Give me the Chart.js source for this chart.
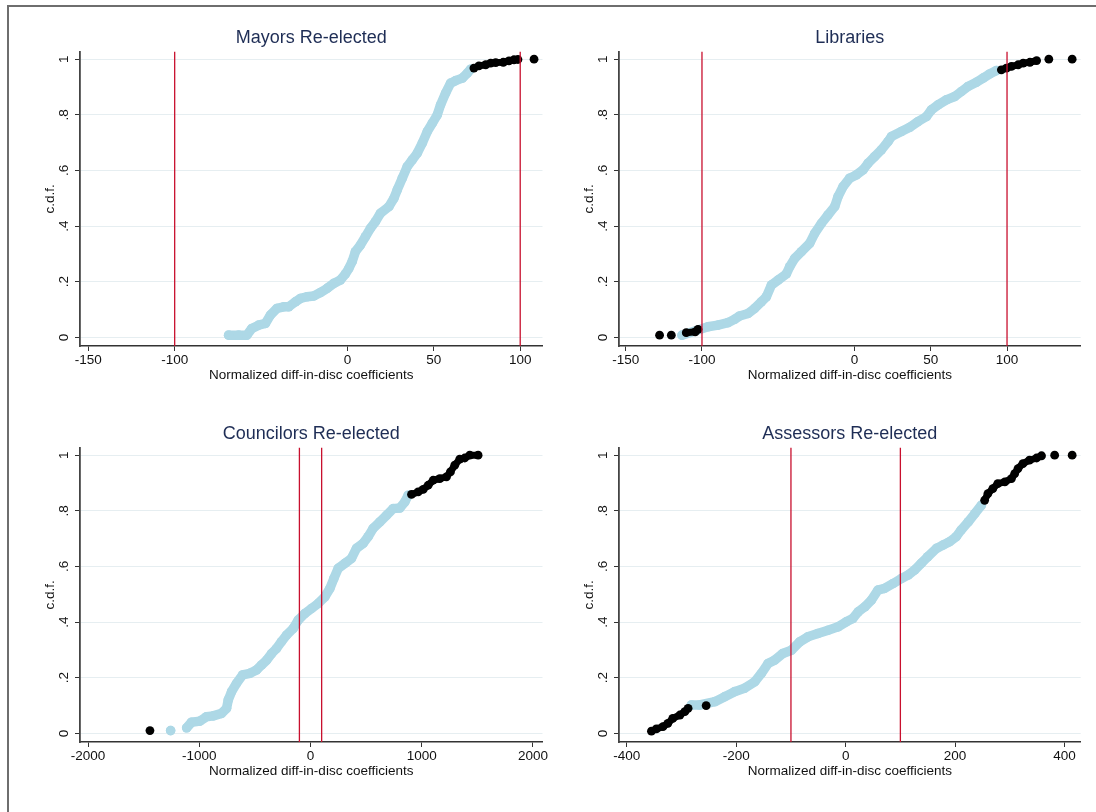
<!DOCTYPE html>
<html>
<head>
<meta charset="utf-8">
<script src="https://cdn.jsdelivr.net/npm/chart.js@4.4.1/dist/chart.umd.min.js"></script>
<style>
  html, body { margin: 0; padding: 0; background: #fff; overflow: hidden; }
  #fig { position: relative; width: 1096px; height: 812px; }
  #frame { position: absolute; left: 7px; top: 5px; right: -10px; bottom: -10px;
           border-left: 2px solid #6e6e6e; border-top: 2px solid #6e6e6e; }
  canvas { position: absolute; }
</style>
</head>
<body>
<div id="fig">
  <div id="frame"></div>
  <canvas id="mayors" width="560" height="400" style="left:0;top:0"></canvas>
  <canvas id="libraries" width="548" height="400" style="left:548px;top:0"></canvas>
  <canvas id="councilors" width="560" height="400" style="left:0;top:396px"></canvas>
  <canvas id="assessors" width="548" height="400" style="left:548px;top:396px"></canvas>
</div>
<script>
// cdf levels on the y axis
const yTicks = [0, 0.2, 0.4, 0.6, 0.8, 1];
const yTickLabels = ['0', '.2', '.4', '.6', '.8', '1'];
const refLines = [-100, 100];

// Mayors Re-elected (null = break between separate dots)
const mayorsBlueX = [-68.8, -63, -58.2, -55.3, -51.4, -47.5, -44.6, -40.8, -36.9, -34, -30.1, -27.2, -23.4, -19.5, -15.7, -11.8, -7.9, -4.1, -1.2, 0.8, 2.7, 4.6, 7.5, 10.4, 13.3, 16.2, 19.1, 24, 26.9, 28.8, 31.7, 34.6, 37.5, 40.4, 43.3, 46.2, 49.1, 52, 53.9, 56.8, 59.7, 62.6, 66.5, 69.4, 71.3];
const mayorsBlueY = [0.008, 0.008, 0.008, 0.032, 0.044, 0.05, 0.08, 0.104, 0.11, 0.11, 0.128, 0.14, 0.146, 0.149, 0.161, 0.176, 0.194, 0.206, 0.228, 0.248, 0.272, 0.308, 0.332, 0.362, 0.392, 0.416, 0.446, 0.47, 0.5, 0.53, 0.572, 0.614, 0.638, 0.662, 0.698, 0.74, 0.77, 0.8, 0.836, 0.878, 0.914, 0.923, 0.932, 0.95, 0.964];
const mayorsBlackX = [73.2, 76.1, 80, 82.9, 85.8, 90.2, 93.5, 96.4, 98.7, null, 108];
const mayorsBlackY = [0.968, 0.976, 0.98, 0.986, 0.988, 0.989, 0.994, 0.998, 0.999, null, 1.0];
const mayorsXTicks = [-150, -100, 0, 50, 100];

// Libraries
const librariesBlueX = [-113.1, -96.1, -89.5, -83, -78.6, -75.3, -69.8, -65.5, -61.1, -57.8, -54.5, -50.1, -44.7, -42.5, -39.2, -34.8, -29.4, -26.1, -21.7, -17.4, -13, -10.8, -7.5, -3.2, 1.2, 5.6, 8.9, 13.2, 17.6, 22, 24.2, 30.7, 36.2, 41.7, 47.2, 50.4, 54.8, 60.2, 65.7, 70.1, 74.4, 79.9, 84.3, 88.6, 93];
const librariesBlueY = [0.008, 0.038, 0.044, 0.053, 0.065, 0.077, 0.086, 0.104, 0.128, 0.146, 0.188, 0.206, 0.228, 0.254, 0.284, 0.308, 0.338, 0.374, 0.41, 0.44, 0.47, 0.506, 0.542, 0.572, 0.584, 0.602, 0.626, 0.65, 0.674, 0.704, 0.722, 0.74, 0.755, 0.776, 0.794, 0.818, 0.836, 0.854, 0.866, 0.884, 0.902, 0.917, 0.932, 0.947, 0.959];
const librariesBlackX = [-127.8, null, -120.1, null, -110.3, -104.4, -102.6, null, 96.3, 99.6, 102.9, 107.3, 110.6, 115, 119.4, null, 127.4, null, 142.7];
const librariesBlackY = [0.008, null, 0.008, null, 0.017, 0.02, 0.029, null, 0.962, 0.968, 0.974, 0.98, 0.986, 0.989, 0.995, null, 1.0, null, 1.0];
const librariesXTicks = [-150, -100, 0, 50, 100];

// Councilors Re-elected
const councilorsBlueX = [-1258, null, -1114, -1070, -995, -935, -875, -800, -755, -740, -710, -665, -611, -545, -485, -440, -395, -350, -306, -261, -216, -156, -111, -51, 9, 69, 129, 174, 210, 249, 309, 368, 413, 473, 518, 563, 623, 683, 743, 803, 848, 878];
const councilorsBlueY = [0.01, null, 0.02, 0.04, 0.044, 0.06, 0.063, 0.072, 0.09, 0.12, 0.15, 0.18, 0.21, 0.216, 0.228, 0.246, 0.263, 0.287, 0.305, 0.33, 0.353, 0.377, 0.407, 0.431, 0.449, 0.467, 0.491, 0.521, 0.557, 0.593, 0.611, 0.629, 0.665, 0.683, 0.707, 0.737, 0.76, 0.784, 0.808, 0.81, 0.832, 0.856];
const councilorsBlackX = [-1444, null, 908, 968, 1013, 1058, 1103, 1162, 1222, 1258, 1297, 1342, 1387, 1432, 1507];
const councilorsBlackY = [0.01, null, 0.859, 0.868, 0.877, 0.892, 0.91, 0.916, 0.922, 0.94, 0.964, 0.986, 0.99, 1.0, 1.0];
const councilorsXTicks = [-2000, -1000, 0, 1000, 2000];

// Assessors Re-elected
const assessorsBlueX = [-282, -267, -239, -221, -203, -185, -166, -154, -142, -130, -115, -99, -84, -69, -51, -32, -14, 1, 13, 23, 35, 47, 59, 71, 87, 102, 114, 126, 138, 150, 166, 178, 190, 202, 211, 224, 236, 248];
const assessorsBlueY = [0.102, 0.102, 0.114, 0.132, 0.15, 0.162, 0.186, 0.216, 0.251, 0.263, 0.287, 0.299, 0.329, 0.347, 0.359, 0.371, 0.383, 0.401, 0.413, 0.437, 0.455, 0.479, 0.515, 0.521, 0.539, 0.557, 0.569, 0.587, 0.611, 0.635, 0.665, 0.677, 0.689, 0.707, 0.731, 0.76, 0.79, 0.82];
const assessorsBlackX = [-355, -346, -334, -325, -316, -303, -294, -288, null, -255, null, 254, 260, 269, 278, 291, 303, 309, 315, 324, 336, 349, 358, null, 382, null, 414];
const assessorsBlackY = [0.008, 0.016, 0.024, 0.036, 0.054, 0.066, 0.078, 0.09, null, 0.1, null, 0.838, 0.862, 0.88, 0.898, 0.904, 0.916, 0.934, 0.952, 0.97, 0.982, 0.99, 0.998, null, 1.0, null, 1.0];
const assessorsXTicks = [-400, -200, 0, 200, 400];

const BLUE = '#add8e6';
const RED = '#c8102e';
const FONT = '"Liberation Sans", Arial, Helvetica, sans-serif';

Chart.defaults.font.family = FONT;

function pts(xs, ys) {
  return xs.map((x, i) => ({ x: x, y: ys[i] }));
}

const refLinePlugin = {
  id: 'refLines',
  afterDatasetsDraw(chart) {
    const { ctx, chartArea, scales } = chart;
    ctx.save();
    ctx.strokeStyle = RED;
    ctx.lineWidth = 1.3;
    refLines.forEach((v) => {
      const px = scales.x.getPixelForValue(v);
      ctx.beginPath();
      ctx.moveTo(px, chartArea.top);
      ctx.lineTo(px, chartArea.bottom);
      ctx.stroke();
    });
    ctx.restore();
  },
};

function buildPanel(id, title, blueX, blueY, blackX, blackY, xMin, xMax, xTicks, padLeft, padRight) {
  return new Chart(document.getElementById(id), {
    type: 'scatter',
    data: {
      datasets: [{
        data: pts(blueX, blueY),
        showLine: true,
        borderColor: BLUE,
        borderWidth: 9.5,
        borderCapStyle: 'round',
        borderJoinStyle: 'round',
        backgroundColor: BLUE,
        pointRadius: 4.8,
        pointBorderWidth: 0,
        order: 2,
      }, {
        data: pts(blackX, blackY),
        showLine: true,
        borderColor: '#000',
        borderWidth: 7,
        borderCapStyle: 'round',
        borderJoinStyle: 'round',
        backgroundColor: '#000',
        pointRadius: 4.4,
        pointBorderWidth: 0,
        order: 1,
      }],
    },
    options: {
      responsive: false,
      animation: false,
      layout: { padding: { left: padLeft, right: padRight, top: 0, bottom: 0 } },
      plugins: {
        legend: { display: false },
        tooltip: { enabled: false },
        title: {
          display: true,
          text: title,
          fullSize: false,
          color: '#1e2d55',
          font: { size: 18, weight: 'normal' },
          padding: { top: 27.6, bottom: 2.5 },
        },
      },
      scales: {
        x: {
          type: 'linear',
          min: xMin,
          max: xMax,
          afterBuildTicks: (scale) => { scale.ticks = xTicks.map((v) => ({ value: v })); },
          afterFit: (scale) => { scale.height = 54; },
          ticks: {
            autoSkip: false,
            maxRotation: 0,
            color: '#111',
            font: { size: 13.5 },
            padding: 1.2,
            callback: (v) => String(v),
          },
          grid: { display: true, drawOnChartArea: false, drawTicks: true, tickLength: 5, tickColor: '#333' },
          border: { display: true, color: '#333', width: 1.5 },
          title: {
            display: true,
            text: 'Normalized diff-in-disc coefficients',
            color: '#111',
            font: { size: 13.5 },
            padding: { top: 0, bottom: 16.5 },
          },
        },
        y: {
          type: 'linear',
          min: -0.031,
          max: 1.027,
          afterBuildTicks: (scale) => { scale.ticks = yTicks.map((v) => ({ value: v })); },
          afterFit: (scale) => { scale.width = 50; },
          ticks: {
            autoSkip: false,
            minRotation: 90,
            maxRotation: 90,
            crossAlign: 'center',
            color: '#111',
            font: { size: 13.5 },
            padding: 5.2,
            callback: (v) => yTickLabels[yTicks.indexOf(v)],
          },
          grid: { color: '#e6eef1', lineWidth: 1, drawTicks: true, tickLength: 5, tickColor: '#333' },
          border: { display: true, color: '#444', width: 1.8 },
          title: {
            display: true,
            text: 'c.d.f.',
            color: '#111',
            font: { size: 13.5 },
            padding: { top: 11.8, bottom: 0 },
          },
        },
      },
    },
    plugins: [refLinePlugin],
  });
}

buildPanel('mayors', 'Mayors Re-elected', mayorsBlueX, mayorsBlueY, mayorsBlackX, mayorsBlackY,
  -154.8, 112.9, mayorsXTicks, 30, 17.5);
buildPanel('libraries', 'Libraries', librariesBlueX, librariesBlueY, librariesBlackX, librariesBlackY,
  -154.4, 148.3, librariesXTicks, 21, 15.3);
buildPanel('councilors', 'Councilors Re-elected', councilorsBlueX, councilorsBlueY, councilorsBlackX, councilorsBlackY,
  -2073, 2086, councilorsXTicks, 30, 17.5);
buildPanel('assessors', 'Assessors Re-elected', assessorsBlueX, assessorsBlueY, assessorsBlackX, assessorsBlackY,
  -414.3, 429.6, assessorsXTicks, 21, 15.3);
</script>
</body>
</html>
